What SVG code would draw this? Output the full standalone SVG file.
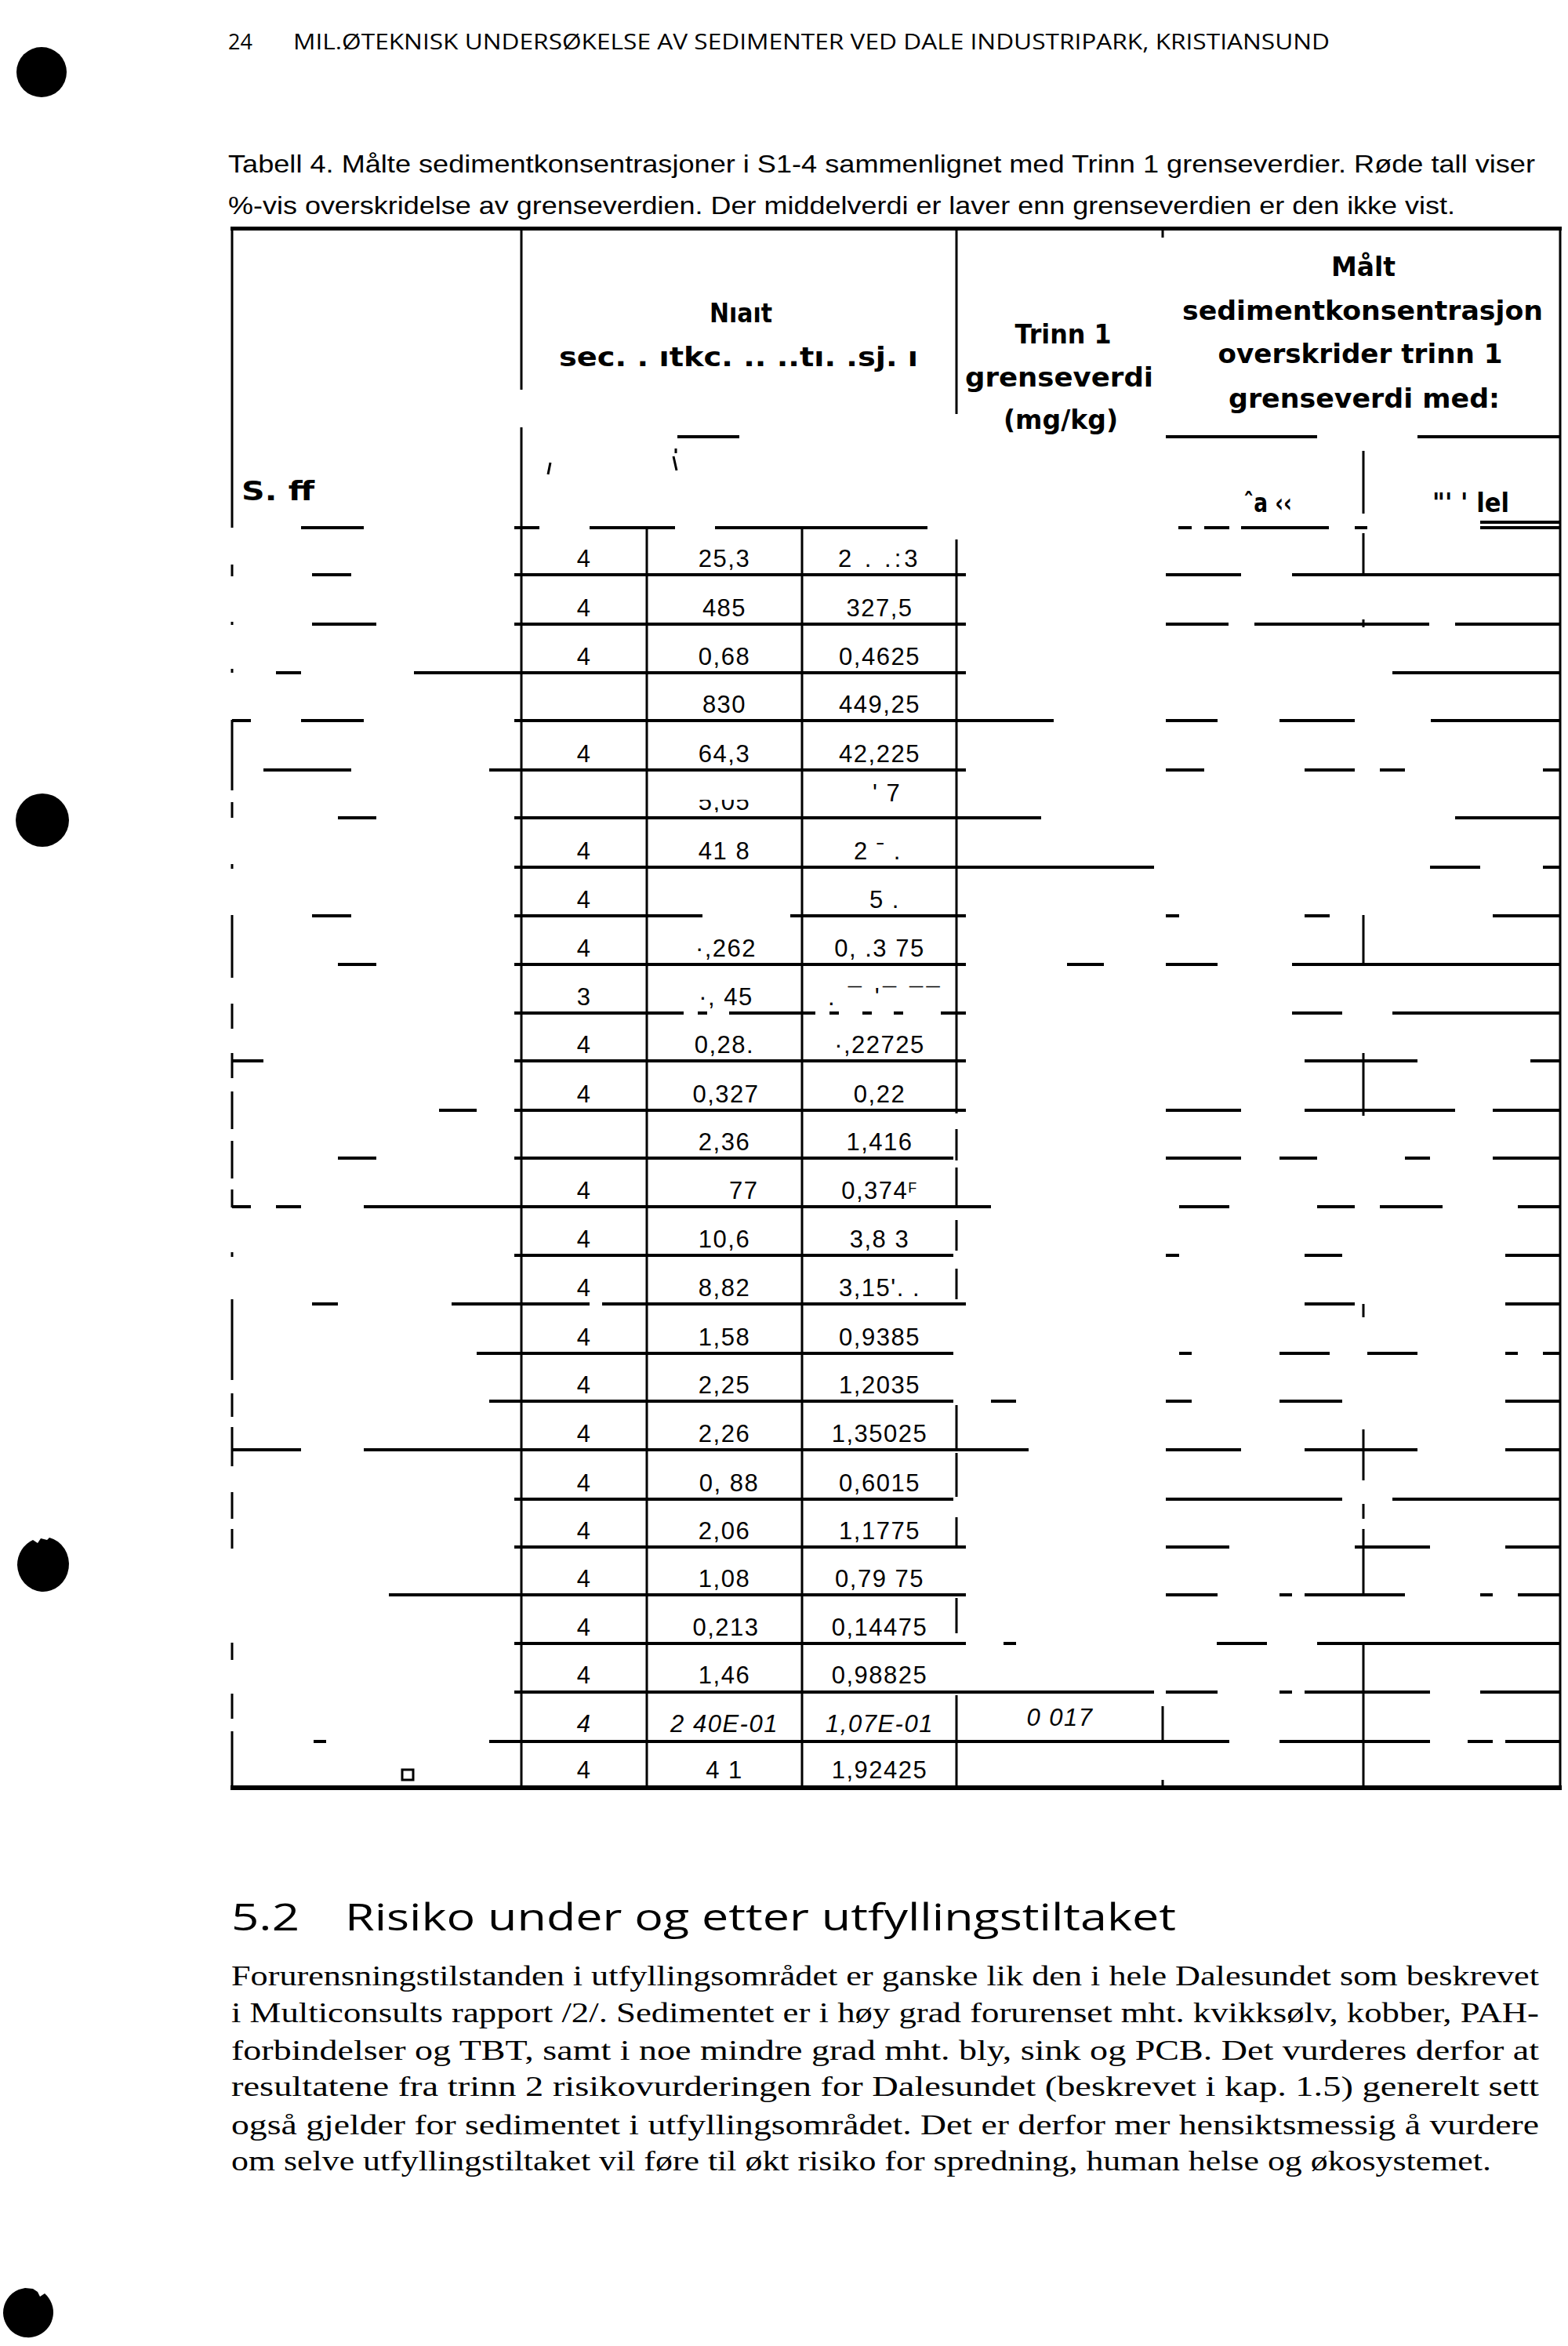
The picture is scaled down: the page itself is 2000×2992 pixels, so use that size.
<svg xmlns="http://www.w3.org/2000/svg" width="2000" height="2992" viewBox="0 0 2000 2992">
<defs>
<style>
.hdr{font-family:"Open Sans","Liberation Sans",sans-serif;font-size:27px;fill:#000}
.cap{font-family:"Liberation Sans",Arial,sans-serif;font-size:32px;fill:#000}
.th{font-family:"DejaVu Sans","Liberation Sans",sans-serif;font-weight:bold;font-size:34px;fill:#000;text-anchor:middle}
.thl{font-family:"DejaVu Sans","Liberation Sans",sans-serif;font-weight:bold;font-size:34px;fill:#000}
.v{font-family:"Liberation Sans",Arial,sans-serif;font-size:31px;letter-spacing:1.5px;fill:#000;text-anchor:middle}
.vs{font-family:"Liberation Sans",Arial,sans-serif;font-size:31px;letter-spacing:1.5px;fill:#000}
.it{font-style:italic}
.h2{font-family:"Open Sans","Liberation Sans",sans-serif;font-size:48px;fill:#000}
.body{font-family:"Liberation Serif","Times New Roman",serif;font-size:35px;fill:#000}
.hl{stroke:#000;stroke-width:4;fill:none}
.vl{stroke:#000;stroke-width:3;fill:none}
</style>
<clipPath id="botHalf"><rect x="880" y="1020" width="100" height="16"/></clipPath>
</defs>
<rect width="2000" height="2992" fill="#fff"/>

<g id="punch-holes" fill="#000">
<circle cx="53" cy="92" r="32"/>
<circle cx="54" cy="1046" r="34"/>
<path d="M22 1996 a33 35 0 0 1 20 -32 l6 4 l4 -6 l8 2 l3 -3 a33 35 0 1 1 -41 35 z"/>
<path d="M4 2950 a32 32 0 0 1 20 -30 l8 -2 l10 1 l6 4 l3 6 l6 -4 a32 32 0 1 1 -53 25 z"/>
</g>

<g id="page-header">
<text class="hdr" x="291" y="63">24</text>
<text class="hdr" x="374" y="63" textLength="1322" lengthAdjust="spacingAndGlyphs">MIL.ØTEKNISK UNDERSØKELSE AV SEDIMENTER VED DALE INDUSTRIPARK, KRISTIANSUND</text>
</g>

<g id="caption">
<text class="cap" x="291" y="220" textLength="1667" lengthAdjust="spacingAndGlyphs">Tabell 4. Målte sedimentkonsentrasjoner i S1-4 sammenlignet med Trinn 1 grenseverdier. Røde tall viser</text>
<text class="cap" x="291" y="273" textLength="1565" lengthAdjust="spacingAndGlyphs">%-vis overskridelse av grenseverdien. Der middelverdi er laver enn grenseverdien er den ikke vist.</text>
</g>

<g id="table-lines">
<rect x="294" y="289" width="1698" height="5" fill="#000"/>
<rect x="294" y="2277" width="1698" height="6" fill="#000"/>
<path class="hl" d="M384 673H464M656 673H688M752 673H861M912 673H1183M1503 673H1520M1536 673H1568M1583 673H1695M1728 673H1744M1888 673H1991
M1888 666H1991
M864 557H943M1487 557H1680M1808 557H1991
M398 733H448M656 733H1232M1487 733H1583M1648 733H1991
M398 796H480M656 796H1232M1487 796H1567M1600 796H1823M1856 796H1991
M352 858H384M528 858H1232M1776 858H1991
M296 919H320M384 919H464M656 919H1344M1487 919H1553M1632 919H1728M1825 919H1991
M336 982H448M624 982H1232M1487 982H1536M1664 982H1728M1760 982H1792M1968 982H1991
M431 1043H480M656 1043H1328M1856 1043H1991
M656 1106H1472M1824 1106H1888M1968 1106H1991
M398 1168H448M656 1168H896M1008 1168H1232M1487 1168H1504M1664 1168H1696M1904 1168H1991
M431 1230H480M656 1230H1232M1361 1230H1408M1487 1230H1553M1648 1230H1991
M656 1292H872M890 1292H902M930 1292H1040M1058 1292H1070M1100 1292H1112M1140 1292H1152M1200 1292H1232M1648 1292H1712M1776 1292H1991
M296 1353H336M656 1353H1232M1664 1353H1808M1952 1353H1991
M560 1416H608M656 1416H1232M1487 1416H1583M1664 1416H1856M1904 1416H1991
M431 1477H480M656 1477H1216M1487 1477H1583M1632 1477H1680M1792 1477H1824M1904 1477H1991
M296 1539H320M352 1539H384M464 1539H1264M1504 1539H1568M1680 1539H1728M1760 1539H1840M1936 1539H1991
M656 1601H1216M1487 1601H1504M1664 1601H1712M1920 1601H1991
M398 1663H431M576 1663H752M768 1663H1232M1664 1663H1728M1920 1663H1991
M608 1726H1216M1504 1726H1520M1632 1726H1696M1744 1726H1808M1920 1726H1936M1968 1726H1991
M624 1787H1216M1264 1787H1296M1487 1787H1520M1632 1787H1712M1920 1787H1991
M296 1849H384M464 1849H1312M1487 1849H1583M1664 1849H1808M1920 1849H1991
M656 1912H1216M1487 1912H1712M1776 1912H1991
M656 1973H1232M1487 1973H1568M1728 1973H1824M1920 1973H1991
M496 2034H1232M1487 2034H1553M1632 2034H1648M1664 2034H1792M1888 2034H1904M1936 2034H1991
M656 2096H1232M1280 2096H1296M1552 2096H1616M1680 2096H1991
M656 2158H1472M1487 2158H1553M1632 2158H1648M1664 2158H1824M1888 2158H1991
M400 2221H416M624 2221H1568M1632 2221H1824M1872 2221H1904M1920 2221H1991"/>
<path class="vl" d="M296 289V673M296 720V735M296 793V797M296 853V858M296 918V1008M296 1023V1043M296 1102V1108M296 1167V1247M296 1280V1312M296 1343V1375M296 1392V1440M296 1455V1503M296 1517V1540M296 1597V1603M296 1657V1760M296 1777V1807M296 1820V1870M296 1903V1937M296 1950V1975M296 2095V2117M296 2160V2192M296 2208V2280
M665 291V497M665 545V2280
M825 673V2280
M1023 673V2280
M1220 291V528M1220 688V1420M1220 1440V1480M1220 1489V1539M1220 1556V1595M1220 1618V1657M1220 1792V1848M1220 1853V1909M1220 1935V1971M1220 2038V2083M1220 2162V2280
M1483 291V303M1483 2176V2220M1483 2270V2280
M1739 575V655M1739 680V735M1739 790V800M1739 1167V1232M1739 1343V1423M1739 1663V1680M1739 1823V1888M1739 1918V1937M1739 1950V2035M1739 2095V2280
M1990 289V2280"/>
<path class="vl" d="M699 605L702 590M859 582L863 600M862 572V578"/>
<rect x="513" y="2257" width="14" height="13" fill="none" stroke="#000" stroke-width="3"/>
</g>

<g id="header-left">
<text class="thl" x="308" y="638" textLength="93" lengthAdjust="spacingAndGlyphs">S.    ff</text>
</g>
<g id="header-measured">
<text class="thl" x="905" y="411" textLength="80" lengthAdjust="spacingAndGlyphs">Nıaıt</text>
<text class="thl" x="713" y="467" textLength="458" lengthAdjust="spacingAndGlyphs">sec.  .  ıtkc. .. ..tı.  .sj. ı</text>
</g>
<g id="header-trinn">
<text class="th" x="1356" y="438" textLength="123" lengthAdjust="spacingAndGlyphs">Trinn 1</text>
<text class="th" x="1351" y="493" textLength="240" lengthAdjust="spacingAndGlyphs">grenseverdi</text>
<text class="th" x="1353" y="547" textLength="146" lengthAdjust="spacingAndGlyphs">(mg/kg)</text>
</g>
<g id="header-exceed">
<text class="th" x="1739" y="352" textLength="82" lengthAdjust="spacingAndGlyphs">Målt</text>
<text class="th" x="1738" y="408" textLength="460" lengthAdjust="spacingAndGlyphs">sedimentkonsentrasjon</text>
<text class="th" x="1735" y="463" textLength="363" lengthAdjust="spacingAndGlyphs">overskrider trinn 1</text>
<text class="th" x="1740" y="520" textLength="346" lengthAdjust="spacingAndGlyphs">grenseverdi med:</text>
<text class="thl" x="1586" y="653" textLength="62" lengthAdjust="spacingAndGlyphs">ˆa ‹‹</text>
<text class="thl" x="1827" y="653" textLength="98" lengthAdjust="spacingAndGlyphs">"' ' lel</text>
</g>

<g id="data-count">
<text class="v" x="745" y="723">4</text>
<text class="v" x="745" y="786">4</text>
<text class="v" x="745" y="848">4</text>
<text class="v" x="745" y="972">4</text>
<text class="v" x="745" y="1096">4</text>
<text class="v" x="745" y="1158">4</text>
<text class="v" x="745" y="1220">4</text>
<text class="v" x="745" y="1282">3</text>
<text class="v" x="745" y="1343">4</text>
<text class="v" x="745" y="1406">4</text>
<text class="v" x="745" y="1529">4</text>
<text class="v" x="745" y="1591">4</text>
<text class="v" x="745" y="1653">4</text>
<text class="v" x="745" y="1716">4</text>
<text class="v" x="745" y="1777">4</text>
<text class="v" x="745" y="1839">4</text>
<text class="v" x="745" y="1902">4</text>
<text class="v" x="745" y="1963">4</text>
<text class="v" x="745" y="2024">4</text>
<text class="v" x="745" y="2086">4</text>
<text class="v" x="745" y="2147">4</text>
<text class="v it" x="745" y="2209">4</text>
<text class="v" x="745" y="2268">4</text>
</g>

<g id="data-max">
<text class="v" x="924" y="723">25,3</text>
<text class="v" x="924" y="786">485</text>
<text class="v" x="924" y="848">0,68</text>
<text class="v" x="924" y="909">830</text>
<text class="v" x="924" y="972">64,3</text>
<text class="v" x="924" y="1033" clip-path="url(#botHalf)">5,05</text>
<text class="v" x="924" y="1096">41 8</text>
<text class="v" x="926" y="1220">·,262</text>
<text class="v" x="926" y="1282">·, 45</text>
<text class="v" x="924" y="1343">0,28.</text>
<text class="v" x="926" y="1406">0,327</text>
<text class="v" x="924" y="1467">2,36</text>
<text class="vs" x="930" y="1529">77</text>
<text class="v" x="924" y="1591">10,6</text>
<text class="v" x="924" y="1653">8,82</text>
<text class="v" x="924" y="1716">1,58</text>
<text class="v" x="924" y="1777">2,25</text>
<text class="v" x="924" y="1839">2,26</text>
<text class="v" x="930" y="1902">0,  88</text>
<text class="v" x="924" y="1963">2,06</text>
<text class="v" x="924" y="2024">1,08</text>
<text class="v" x="926" y="2086">0,213</text>
<text class="v" x="924" y="2147">1,46</text>
<text class="v it" x="924" y="2209">2 40E-01</text>
<text class="v" x="924" y="2268">4 1</text>
</g>

<g id="data-mean">
<text class="vs" x="1069" y="723" textLength="103" lengthAdjust="spacing">2 . .:3</text>
<text class="v" x="1122" y="786">327,5</text>
<text class="v" x="1122" y="848">0,4625</text>
<text class="v" x="1122" y="909">449,25</text>
<text class="v" x="1122" y="972">42,225</text>
<text class="vs" x="1113" y="1022">' 7</text>
<text class="vs" x="1089" y="1096">2 ˉ .</text>
<text class="vs" x="1109" y="1158">5 .</text>
<text class="v" x="1122" y="1220">0, .3 75</text>
<text class="vs" x="1056" y="1282" textLength="144" lengthAdjust="spacing">. ¯ '¯ ¯¯</text>
<text class="v" x="1122" y="1343">·,22725</text>
<text class="v" x="1122" y="1406">0,22</text>
<text class="v" x="1122" y="1467">1,416</text>
<text class="v" x="1122" y="1529">0,374<tspan font-size="18" dy="-8">F</tspan></text>
<text class="v" x="1122" y="1591">3,8   3</text>
<text class="v" x="1122" y="1653">3,15'. .</text>
<text class="v" x="1122" y="1716">0,9385</text>
<text class="v" x="1122" y="1777">1,2035</text>
<text class="v" x="1122" y="1839">1,35025</text>
<text class="v" x="1122" y="1902">0,6015</text>
<text class="v" x="1122" y="1963">1,1775</text>
<text class="v" x="1122" y="2024">0,79  75</text>
<text class="v" x="1122" y="2086">0,14475</text>
<text class="v" x="1122" y="2147">0,98825</text>
<text class="v it" x="1122" y="2209">1,07E-01</text>
<text class="v" x="1122" y="2268">1,92425</text>
</g>

<g id="data-trinn">
<text class="v it" x="1352" y="2201">0 017</text>
</g>

<g id="section">
<text class="h2" x="295" y="2462" textLength="87" lengthAdjust="spacingAndGlyphs">5.2</text>
<text class="h2" x="440" y="2462" textLength="1060" lengthAdjust="spacingAndGlyphs">Risiko under og etter utfyllingstiltaket</text>
<text class="body" x="295" y="2532" textLength="1668" lengthAdjust="spacingAndGlyphs">Forurensningstilstanden i utfyllingsområdet er ganske lik den i hele Dalesundet som beskrevet</text>
<text class="body" x="295" y="2579" textLength="1668" lengthAdjust="spacingAndGlyphs">i Multiconsults rapport /2/. Sedimentet er i høy grad forurenset mht. kvikksølv, kobber, PAH-</text>
<text class="body" x="295" y="2627" textLength="1668" lengthAdjust="spacingAndGlyphs">forbindelser og TBT, samt i noe mindre grad mht. bly, sink og PCB. Det vurderes derfor at</text>
<text class="body" x="295" y="2673" textLength="1668" lengthAdjust="spacingAndGlyphs">resultatene fra trinn 2 risikovurderingen for Dalesundet (beskrevet i kap. 1.5) generelt sett</text>
<text class="body" x="295" y="2722" textLength="1668" lengthAdjust="spacingAndGlyphs">også gjelder for sedimentet i utfyllingsområdet. Det er derfor mer hensiktsmessig å vurdere</text>
<text class="body" x="295" y="2768" textLength="1607" lengthAdjust="spacingAndGlyphs">om selve utfyllingstiltaket vil føre til økt risiko for spredning, human helse og økosystemet.</text>
</g>
</svg>
